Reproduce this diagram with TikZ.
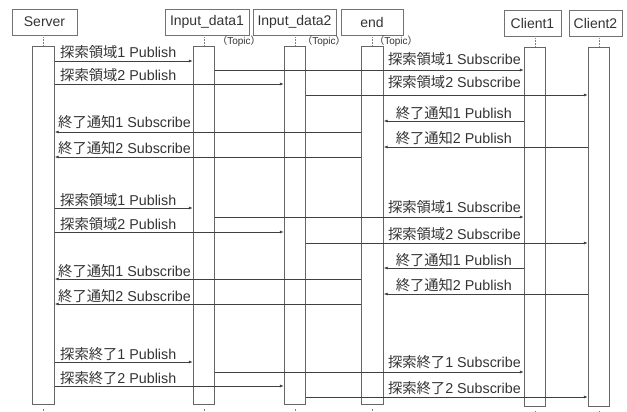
\documentclass[tikz,border=0pt]{standalone}
\usepackage{fontspec}
\setmainfont{Liberation Sans}
\newfontfamily\cjk{Noto Sans CJK JP}
\usetikzlibrary{arrows.meta}
\begin{document}
\begin{tikzpicture}[x=1pt,y=-1pt,
  hdr/.style={draw=black!55, line width=0.8pt, rectangle, minimum height=26pt, inner sep=0pt, font=\fontsize{14}{16}\selectfont, text=black!80},
  act/.style={draw=black!60, line width=0.8pt, rectangle, minimum width=21.5pt, inner sep=0pt, anchor=north},
  life/.style={draw=black!50, line width=0.6pt, densely dotted},
  msg/.style={draw=black!75, line width=0.7pt, -{Latex[length=4pt,width=3pt]}},
  lbl/.style={font=\fontsize{14.3}{16}\selectfont, text=black!80, inner sep=0pt},
  topic/.style={font=\fontsize{10}{11}\selectfont, text=black!80, inner sep=0pt}
]
\useasboundingbox (0,0) rectangle (627,412);
% headers
\node[hdr, minimum width=65pt] (hS) at (44.5,22) {Server};
\node[hdr, minimum width=84pt] (hI1) at (207,22) {Input\_data1};
\node[hdr, minimum width=83pt] (hI2) at (294.5,22) {Input\_data2};
\node[hdr, minimum width=62pt] (hE) at (372,22) {end};
\node[hdr, minimum width=57pt] (hC1) at (532.5,23) {Client1};
\node[hdr, minimum width=53pt] (hC2) at (595.5,23) {Client2};
% topic labels
\node[topic] (t1) at (239,41) {{\cjk （}Topic{\cjk ）}};
\node[topic] (t2) at (324,41) {{\cjk （}Topic{\cjk ）}};
\node[topic] (t3) at (396,41) {{\cjk （}Topic{\cjk ）}};
% activations
\node[act, minimum height=358pt] (aS) at (43.5,46) {};
\node[act, minimum height=358pt] (aI1) at (204,46) {};
\node[act, minimum height=358pt] (aI2) at (295,46) {};
\node[act, minimum height=358pt] (aE) at (372.5,46) {};
\node[act, minimum height=359pt] (aC1) at (535,47) {};
\node[act, minimum height=359pt] (aC2) at (599,47) {};
% lifelines
\foreach \h/\a in {hS/aS, hI1/aI1, hI2/aI2, hE/aE, hC1/aC1, hC2/aC2}{
  \draw[life] (\a.north |- \h.south) -- (\a.north);
  \draw[life] (\a.south) ++(0,4) -- (\a.south |- 0,412);
}
% block 1
\draw[msg] (aS.east |- 0,61) -- (aI1.west |- 0,61);
\node[lbl, anchor=base west] (m1) at (60,57.5) {{\cjk 探索領域}1 Publish};
\draw[msg] (aI1.east |- 0,70) -- (aC1.west |- 0,70);
\node[lbl, anchor=base east] (m2) at (521,64.5) {{\cjk 探索領域}1 Subscribe};
\draw[msg] (aS.east |- 0,84) -- (aI2.west |- 0,84);
\node[lbl, anchor=base west] (m3) at (60,81) {{\cjk 探索領域}2 Publish};
\draw[msg] (aI2.east |- 0,95) -- (aC2.west |- 0,95);
\node[lbl, anchor=base east] (m4) at (521,87.5) {{\cjk 探索領域}2 Subscribe};
\draw[msg] (aC1.west |- 0,121) -- (aE.east |- 0,121);
\node[lbl, anchor=base east] (m5) at (512,118) {{\cjk 終了通知}1 Publish};
\draw[msg] (aE.west |- 0,132) -- (aS.east |- 0,132);
\node[lbl, anchor=base west] (m6) at (58,128) {{\cjk 終了通知}1 Subscribe};
\draw[msg] (aC2.west |- 0,147) -- (aE.east |- 0,147);
\node[lbl, anchor=base east] (m7) at (512,143) {{\cjk 終了通知}2 Publish};
\draw[msg] (aE.west |- 0,157) -- (aS.east |- 0,157);
\node[lbl, anchor=base west] (m8) at (58,153) {{\cjk 終了通知}2 Subscribe};
% block 2
\draw[msg] (aS.east |- 0,208) -- (aI1.west |- 0,208);
\node[lbl, anchor=base west] (m9) at (60,205) {{\cjk 探索領域}1 Publish};
\draw[msg] (aI1.east |- 0,217) -- (aC1.west |- 0,217);
\node[lbl, anchor=base east] (m10) at (521,212.5) {{\cjk 探索領域}1 Subscribe};
\draw[msg] (aS.east |- 0,232) -- (aI2.west |- 0,232);
\node[lbl, anchor=base west] (m11) at (60,229) {{\cjk 探索領域}2 Publish};
\draw[msg] (aI2.east |- 0,243) -- (aC2.west |- 0,243);
\node[lbl, anchor=base east] (m12) at (521,239) {{\cjk 探索領域}2 Subscribe};
\draw[msg] (aC1.west |- 0,268) -- (aE.east |- 0,268);
\node[lbl, anchor=base east] (m13) at (512,265) {{\cjk 終了通知}1 Publish};
\draw[msg] (aE.west |- 0,279) -- (aS.east |- 0,279);
\node[lbl, anchor=base west] (m14) at (58,276) {{\cjk 終了通知}1 Subscribe};
\draw[msg] (aC2.west |- 0,294) -- (aE.east |- 0,294);
\node[lbl, anchor=base east] (m15) at (512,290) {{\cjk 終了通知}2 Publish};
\draw[msg] (aE.west |- 0,304) -- (aS.east |- 0,304);
\node[lbl, anchor=base west] (m16) at (58,301) {{\cjk 終了通知}2 Subscribe};
% block 3
\draw[msg] (aS.east |- 0,362) -- (aI1.west |- 0,362);
\node[lbl, anchor=base west] (m17) at (60,359) {{\cjk 探索終了}1 Publish};
\draw[msg] (aI1.east |- 0,372) -- (aC1.west |- 0,372);
\node[lbl, anchor=base east] (m18) at (521,367.5) {{\cjk 探索終了}1 Subscribe};
\draw[msg] (aS.east |- 0,386) -- (aI2.west |- 0,386);
\node[lbl, anchor=base west] (m19) at (60,383) {{\cjk 探索終了}2 Publish};
\draw[msg] (aI2.east |- 0,397) -- (aC2.west |- 0,397);
\node[lbl, anchor=base east] (m20) at (521,393) {{\cjk 探索終了}2 Subscribe};
\end{tikzpicture}
\end{document}
